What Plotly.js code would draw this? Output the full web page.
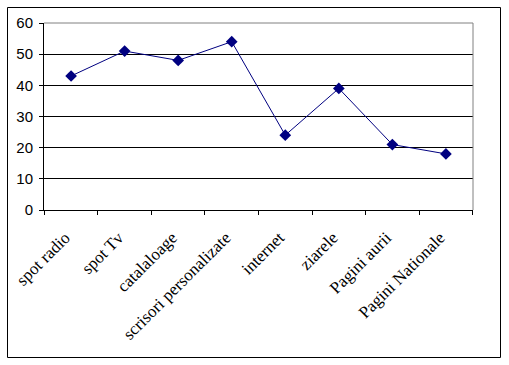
<!DOCTYPE html>
<html>
<head>
<meta charset="utf-8">
<script src="https://cdn.plot.ly/plotly-3.0.1.min.js"></script>
<style>html,body{margin:0;padding:0;background:#fff;}#chart{width:509px;height:365px;}</style>
</head>
<body>
<div id="chart"></div>
<script>
const categories = ["spot radio", "spot Tv", "catalaloage", "scrisori personalizate", "internet", "ziarele", "Pagini aurii", "Pagini Nationale"];
const values = [43, 51, 48, 54, 24, 39, 21, 18];
const yTicks = [0, 10, 20, 30, 40, 50, 60];

const W = 509, H = 365;
const M = {l: 44, r: 36, t: 23, b: 155};
const pw = W - M.l - M.r, ph = H - M.t - M.b;
const px = v => (v - M.l) / pw;
const py = v => (H - M.b - v) / ph;

const trace = {
  x: categories,
  y: values,
  type: 'scatter',
  mode: 'lines+markers',
  line: {color: '#000080', width: 1},
  marker: {symbol: 'diamond', size: 9, color: '#000080'},
  hoverinfo: 'skip'
};

const layout = {
  width: W, height: H,
  margin: M,
  paper_bgcolor: '#ffffff',
  plot_bgcolor: '#ffffff',
  showlegend: false,
  xaxis: {
    type: 'category',
    tickson: 'boundaries',
    ticks: 'outside', ticklen: 4, tickcolor: '#000', tickwidth: 1,
    showline: true, linecolor: '#000', linewidth: 1,
    showgrid: false, zeroline: false,
    tickangle: -45,
    ticklabelstandoff: 10,
    ticklabelshift: -6,
    tickfont: {family: 'Liberation Serif, Times New Roman, serif', size: 17, color: '#000'},
    fixedrange: true
  },
  yaxis: {
    range: [0, 60],
    tickvals: yTicks,
    ticks: 'outside', ticklen: 4, tickcolor: '#000', tickwidth: 1,
    showline: true, linecolor: '#000', linewidth: 1,
    showgrid: true, gridcolor: '#000', gridwidth: 1,
    zeroline: false,
    ticklabelstandoff: 3,
    tickfont: {family: 'Liberation Sans, Arial, sans-serif', size: 15, color: '#000'},
    fixedrange: true
  },
  shapes: [
    {type: 'line', xref: 'paper', yref: 'paper', x0: 0, x1: 1, y0: 1, y1: 1, line: {color: '#808080', width: 1}, layer: 'above'},
    {type: 'line', xref: 'paper', yref: 'paper', x0: 1, x1: 1, y0: 0, y1: 1, line: {color: '#808080', width: 1}, layer: 'above'},
    {type: 'rect', xref: 'paper', yref: 'paper', x0: px(7.5), x1: px(500.5), y0: py(357.5), y1: py(7.5), line: {color: '#000', width: 1}, layer: 'above'}
  ]
};

Plotly.newPlot('chart', [trace], layout, {displayModeBar: false, staticPlot: true});
</script>
</body>
</html>
